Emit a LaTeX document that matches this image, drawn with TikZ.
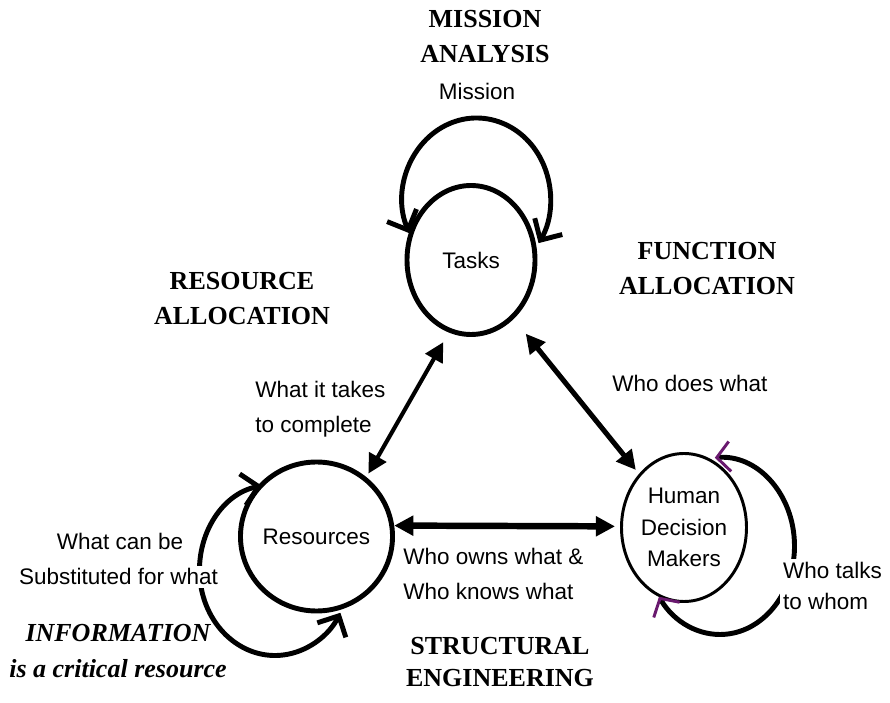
\documentclass[tikz,border=0pt]{standalone}
\usepackage{fontspec}
\setmainfont{Liberation Sans}
\newfontfamily\timesfont{Liberation Serif}
\usetikzlibrary{shapes.geometric,arrows.meta}
\definecolor{tipviolet}{RGB}{105,25,110}
\newcommand{\lblfont}{\fontsize{16}{24.9}\selectfont}
\newcommand{\lbltight}{\fontsize{16}{22.5}\selectfont}
\newcommand{\hdfont}{\timesfont\bfseries\fontsize{18.5}{24.9}\selectfont}
\tikzset{
  actor/.style={ellipse, draw, line width=3.5pt, minimum width=3.2cm, minimum height=3.725cm, inner sep=0pt, font=\lblfont},
  selfloop/.style={line width=3.5pt, {Straight Barb[length=0.4cm,width=0.8cm]}-{Straight Barb[length=0.4cm,width=0.8cm]}},
  flow/.style={line width=3.6pt, {Triangle[length=0.48cm,width=0.48cm]}-{Triangle[length=0.48cm,width=0.48cm]}},
  heading/.style={font=\hdfont, align=center, anchor=base, inner sep=0pt},
  note/.style={font=\lblfont, anchor=base, inner sep=0pt}
}

\begin{document}
\begin{tikzpicture}
	\useasboundingbox (0,0) rectangle (22.25,17.575);
	\node[actor] (tasks) at (11.775,11.075) {Tasks};
	\node[actor] (res) at (7.9125,4.1625) {Resources};
	\node[actor, line width=2.1pt, minimum width=3.125cm, minimum height=3.7cm, align=center, font=\lbltight] (hdm) at (17.1,4.3875) {Human\\Decision\\Makers};
	\draw[selfloop] ([shift={(-1.539,0.669)}]tasks.center) arc[start angle=205, end angle=-33, x radius=1.85, y radius=2.025];
	\draw[selfloop] ([shift={(-1.365,1.2675)}]res.center) arc[start angle=100, end angle=330, x radius=1.8875, y radius=2.1375];
	\draw[selfloop, {Straight Barb[length=0.33cm,width=0.75cm,color=tipviolet,line width=2.1pt 0]}-{Straight Barb[length=0.33cm,width=0.75cm,color=tipviolet,line width=2.1pt 0]}] ([shift={(0.77,1.7445)}]hdm.center) arc[start angle=94, end angle=-145, x radius=1.8625, y radius=2.2125];
	\draw[flow, line width=2.9pt, shorten <=0.275cm, shorten >=0.1cm] (tasks.253) -- (res.50);
	\draw[flow, shorten <=0.475cm, shorten >=0.125cm] (tasks.306) -- (hdm.130);
	\draw[flow, line width=4.6pt, shorten >=0.125cm] (res.8) -- (hdm.179);
	\node[heading] (mtitle) at (12.125,16.0) {MISSION\\ANALYSIS};
	\node[note] (mission) at (11.925,15.075) {Mission};
	\node[heading] (rtitle) at (6.05,9.45) {RESOURCE\\ALLOCATION};
	\node[heading] (ftitle) at (17.675,10.2) {FUNCTION\\ALLOCATION};
	\node[note, align=left, anchor=base west] (takes) at (6.375,6.75) {What it takes\\to complete};
	\node[note] (does) at (17.25,7.775) {Who does what};
	\node[note] (canbe) at (3.0,3.825) {What can be};
	\node[note, fill=white, inner sep=2pt] (subst) at (2.9625,2.95) {Substituted for what};
	\node[note, align=left, anchor=base west] (owns) at (10.075,2.575) {Who owns what \&\\Who knows what};
	\node[note, align=left, anchor=base west, font=\lbltight, fill=white, inner sep=2pt] (talks) at (19.5,2.325) {Who talks\\to whom};
	\node[heading, font=\hdfont\itshape] (info) at (2.95,0.65) {INFORMATION\\is a critical resource};
	\node[heading, font={\timesfont\bfseries\fontsize{18.5}{22.8}\selectfont}] (struct) at (12.5,0.4) {STRUCTURAL\\ENGINEERING};
\end{tikzpicture}
\end{document}
